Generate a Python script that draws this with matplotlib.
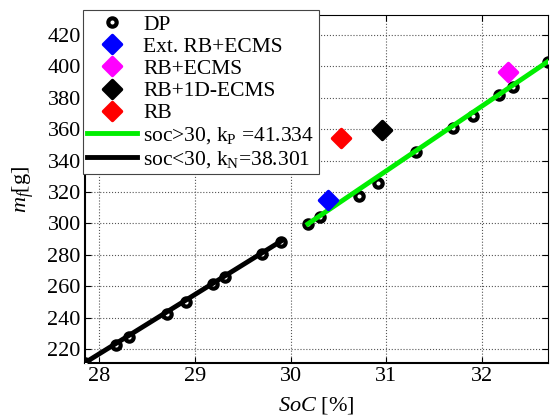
import matplotlib
matplotlib.use('Agg')
import matplotlib.pyplot as plt
from matplotlib.markers import MarkerStyle

plt.rcParams['font.family'] = ['Liberation Serif', 'DejaVu Serif']
plt.rcParams['mathtext.fontset'] = 'custom'
plt.rcParams['mathtext.rm'] = 'Liberation Serif'
plt.rcParams['mathtext.it'] = 'Liberation Serif:italic'

# puntos DP, rama soc < 30
soc_bajo = [27.85, 28.17, 28.31, 28.71, 28.91, 29.19, 29.31, 29.70, 29.90]
mf_bajo = [211.5, 223.0, 228.0, 242.2, 250.2, 261.7, 265.9, 280.5, 288.3]

# puntos DP, rama soc > 30
soc_alto = [30.18, 30.31, 30.71, 30.91, 31.31, 31.70, 31.91, 32.18, 32.32, 32.69]
mf_alto = [299.7, 304.2, 317.5, 325.4, 345.5, 360.8, 368.6, 381.5, 386.8, 402.6]

# rectas de ajuste (extremos)
soc_ajuste_p = [30.18, 32.69]
mf_ajuste_p = [299.7, 403.0]
soc_ajuste_n = [27.85, 29.90]
mf_ajuste_n = [211.5, 288.8]

# estrategias
estrategias = ['Ext. RB+ECMS', 'RB+ECMS', 'RB+1D-ECMS', 'RB']
soc_estr = [30.39, 32.27, 30.95, 30.53]
mf_estr = [315.0, 396.0, 359.5, 354.5]
colores_estr = ['#0000ff', '#ff00ff', '#000000', '#ff0000']

etiqueta_p = 'soc>30, k$_\\mathrm{P}$ =41.334'
etiqueta_n = 'soc<30, k$_\\mathrm{N}$=38.301'

fig = plt.figure(figsize=(5.5, 4.19), dpi=100)
ax = fig.add_axes([85 / 550, 1 - 363 / 419, 463 / 550, 348 / 419])

dp, = ax.plot(soc_bajo + soc_alto, mf_bajo + mf_alto, 'o', ls='none',
              color='black', mfc='white', mec='black', ms=6.0, mew=3.0,
              zorder=3, label='DP')

handles = [dp]
diamante = MarkerStyle('D', joinstyle='round')
for nombre, x, y, c in zip(estrategias, soc_estr, mf_estr, colores_estr):
    h, = ax.plot([x], [y], ls='none', marker=diamante, ms=9.5, mfc=c, mec=c,
                 mew=2.5, zorder=5, label=nombre)
    handles.append(h)

lp, = ax.plot(soc_ajuste_p, mf_ajuste_p, '-', color='#00ee00', lw=3.5,
              zorder=4, label=etiqueta_p)
ln, = ax.plot(soc_ajuste_n, mf_ajuste_n, '-', color='black', lw=3.5,
              zorder=4, label=etiqueta_n)
handles += [lp, ln]

ax.set_xlim(27.85, 32.69)
ax.set_ylim(211.3, 432.5)
ax.set_xticks([28, 29, 30, 31, 32])
ax.set_yticks(range(220, 421, 20))
ax.grid(True, ls=':', color='#555555', lw=0.8)
ax.tick_params(direction='in', top=True, right=True, labelsize=16,
               length=4, width=0.8, pad=3)
for s in ax.spines.values():
    s.set_linewidth(0.8)
ax.spines['left'].set_linewidth(1.5)
ax.spines['bottom'].set_linewidth(1.5)

ax.set_xlabel('$SoC$ [%]', fontsize=16, labelpad=6)
ax.set_ylabel('$m_f$[g]', fontsize=16, labelpad=8)

leg = ax.legend(handles=handles, loc='upper left',
                bbox_to_anchor=(-0.004, 1.014), borderaxespad=0,
                fontsize=15.5, fancybox=False, framealpha=1,
                edgecolor='#444444', labelspacing=0.1, handlelength=2.3,
                handletextpad=0.3, borderpad=0.2, markerscale=1.0)
leg.get_frame().set_linewidth(0.8)
leg.set_zorder(10)

fig.savefig('out.png', dpi=100)
